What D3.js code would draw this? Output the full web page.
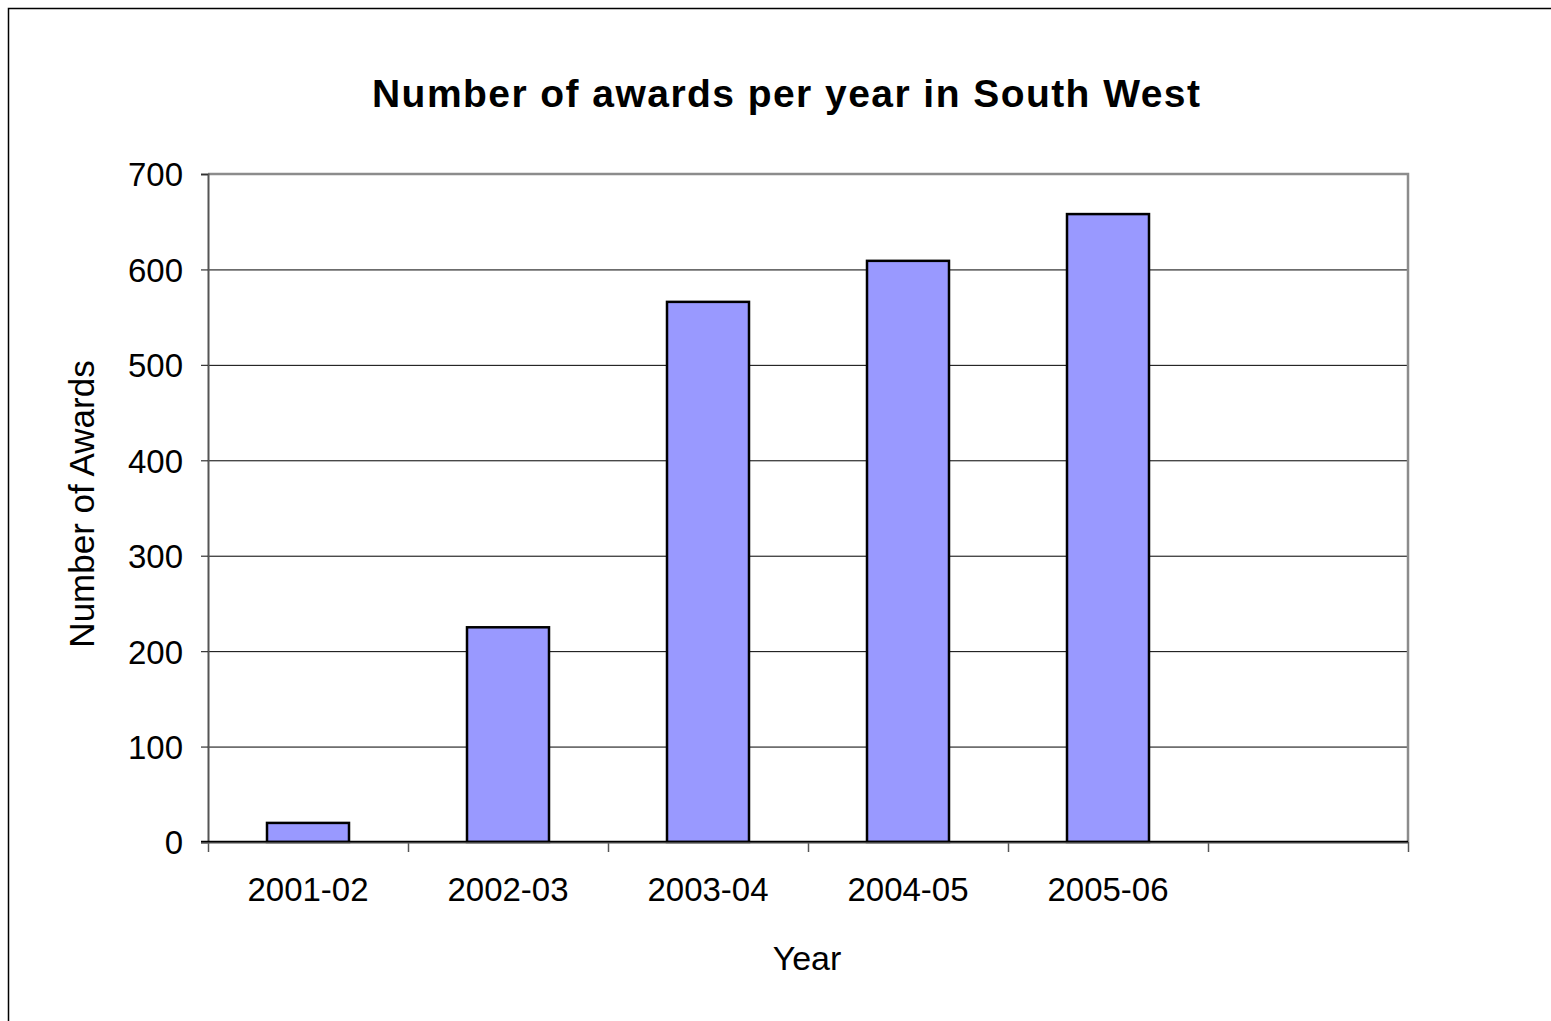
<!DOCTYPE html>
<html>
<head>
<meta charset="utf-8">
<script src="https://cdn.jsdelivr.net/npm/d3@7"></script>
<style>
html,body{margin:0;padding:0;background:#fff;}
svg{display:block;font-family:"Liberation Sans",Arial,sans-serif;}
</style>
</head>
<body>
<svg id="chart" width="1551" height="1021"></svg>
<script>
const categories = ["2001-02","2002-03","2003-04","2004-05","2005-06",""];
const values = [20, 225, 566, 609, 658, null];
const yTicks = [0,100,200,300,400,500,600,700];
const title = "Number of awards per year in South West";
const xTitle = "Year";
const yTitle = "Number of Awards";

const svg = d3.select("#chart");
const m = {left:208, right:1408, top:174, bottom:842};

// outer frame
svg.append("path").attr("d","M8.5,1030 V8.5 H1560").attr("fill","none").attr("stroke","#000").attr("stroke-width",1.5);

const x = d3.scaleBand().domain(categories.map((c,i)=>i)).range([m.left,m.right]).paddingInner(0).paddingOuter(0);
const y = d3.scaleLinear().domain([0,700]).range([m.bottom,m.top]);

// gridlines
svg.append("g").selectAll("line").data(yTicks.filter(t=>t>0 && t<700)).join("line")
  .attr("x1",m.left).attr("x2",m.right).attr("y1",d=>y(d)+0.5).attr("y2",d=>y(d)+0.5)
  .attr("stroke","#000").attr("stroke-width",1);

// plot border top/right
svg.append("path").attr("d",`M${m.left},${m.top} H${m.right} V${m.bottom}`).attr("fill","none").attr("stroke","#8c8c8c").attr("stroke-width",2.5);

// bars
const bw = 82;
svg.append("g").selectAll("rect").data(values.map((v,i)=>({v,i})).filter(d=>d.v!=null)).join("rect")
  .attr("x",d=>x(d.i)+x.bandwidth()/2-bw/2).attr("width",bw)
  .attr("y",d=>y(d.v)).attr("height",d=>y(0)-y(d.v))
  .attr("fill","#9999ff").attr("stroke","#000").attr("stroke-width",2.5);

// y axis
const yAxis = d3.axisLeft(y).tickValues(yTicks).tickSize(7).tickPadding(18);
const gy = svg.append("g").attr("transform",`translate(${m.left},0)`).call(yAxis);
gy.select(".domain").attr("stroke","#555").attr("stroke-width",2);
gy.selectAll(".tick line").attr("stroke","#333").attr("stroke-width",1.2);
gy.selectAll("text").attr("font-size",33).attr("fill","#000").attr("dy","0.36em").attr("font-family","Liberation Sans, Arial, sans-serif");

// x axis
const xl = d3.scaleLinear().domain([0,categories.length]).range([m.left,m.right]);
const xAxis = d3.axisBottom(xl).ticks(categories.length).tickFormat("").tickSize(10);
const gx = svg.append("g").attr("transform",`translate(0,${m.bottom})`).call(xAxis);
gx.select(".domain").remove();
gx.selectAll(".tick line").attr("stroke","#555").attr("stroke-width",1.5);
svg.append("line").attr("x1",m.left-7).attr("x2",m.right).attr("y1",m.bottom).attr("y2",m.bottom).attr("stroke","#000").attr("stroke-width",2.5);
svg.append("line").attr("x1",m.left-7).attr("x2",m.right).attr("y1",m.bottom+1).attr("y2",m.bottom+1).attr("stroke","#888").attr("stroke-width",1);

svg.append("g").selectAll("text").data(categories.map((c,i)=>({c,i}))).join("text")
  .attr("x",d=>x(d.i)+x.bandwidth()/2).attr("y",901)
  .attr("text-anchor","middle").attr("font-size",33).text(d=>d.c);

// titles
svg.append("text").attr("x",786).attr("y",107).attr("text-anchor","middle")
  .attr("font-size",39).attr("font-weight","bold")
  .attr("textLength",828).attr("lengthAdjust","spacing").text(title);
svg.append("text").attr("x",807).attr("y",970).attr("text-anchor","middle")
  .attr("font-size",34).text(xTitle);
svg.append("text").attr("transform","translate(94,504) rotate(-90)").attr("text-anchor","middle")
  .attr("font-size",35).text(yTitle);
</script>
</body>
</html>
